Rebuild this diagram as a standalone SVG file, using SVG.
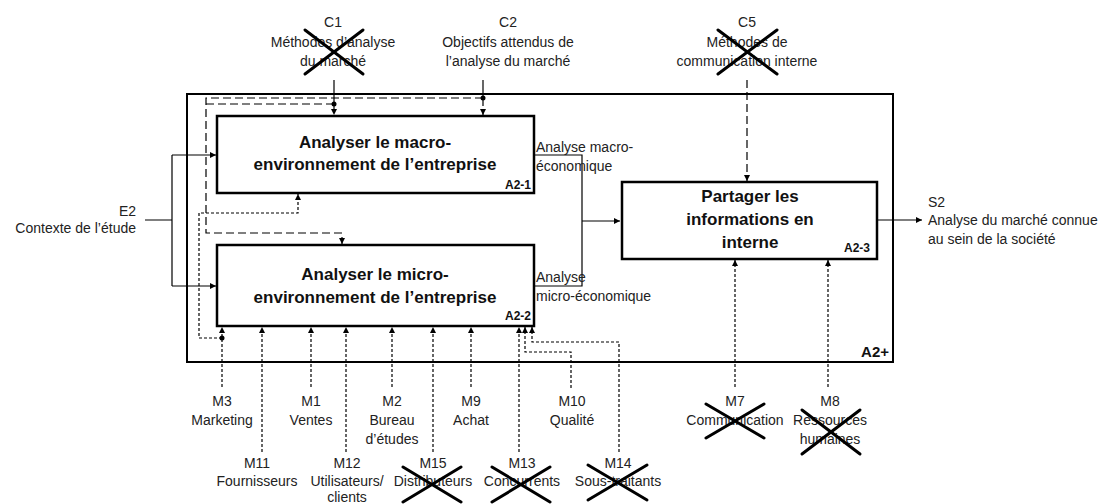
<svg xmlns="http://www.w3.org/2000/svg" width="1105" height="504" viewBox="0 0 1105 504">
<defs>
<marker id="ah" markerUnits="userSpaceOnUse" markerWidth="7" markerHeight="6" refX="6" refY="3" orient="auto">
<path d="M0,0 L6,3 L0,6 z" fill="#000"/>
</marker>
<style>
.lbl{font-family:"Liberation Sans",Arial,sans-serif;font-size:14px;fill:#222;text-anchor:middle}
.st{text-anchor:start}
.en{text-anchor:end}
.ttl{font-family:"Liberation Sans",Arial,sans-serif;font-size:17px;font-weight:bold;fill:#111;text-anchor:middle}
.id{font-family:"Liberation Sans",Arial,sans-serif;font-size:12px;font-weight:bold;fill:#111;text-anchor:end}
.box{fill:#fff;stroke:#000;stroke-width:2.5}
.frame{fill:none;stroke:#000;stroke-width:2}
.c{fill:none;stroke:#000;stroke-width:1.2}
.ca{fill:none;stroke:#000;stroke-width:1.2;marker-end:url(#ah)}
.ld{stroke-dasharray:8,4}
.sd{stroke-dasharray:3,2}
.x{stroke:#000;stroke-width:3;stroke-linecap:round}
</style>
</defs>
<rect width="1105" height="504" fill="#fff"/>

<g id="A2plus">
<rect class="frame" x="187" y="94" width="706" height="268"/>
<text class="id" x="889" y="357" style="font-size:15px">A2+</text>
</g>

<g id="connectors">
<path class="c" d="M145,220 H172 M172,155 V286"/>
<path class="ca" d="M172,155 H216"/>
<path class="ca" d="M172,286 H216"/>
<path class="c" d="M534,155 H582 V286 H534"/>
<path class="ca" d="M582,221 H620"/>
<path class="ca" d="M876,220 H922"/>
<path class="c" d="M334,80 V104"/>
<circle cx="334" cy="104" r="2.5" fill="#000"/>
<path class="ca ld" d="M334,104 V115"/>
<path class="c" d="M483,80 V98"/>
<circle cx="483" cy="98" r="2.5" fill="#000"/>
<path class="ca ld" d="M483,98 V115"/>
<path class="ca ld" d="M483,98 H206 V233 H342 V244"/>
<path class="c ld" d="M334,104 H206"/>
<path class="ca ld" d="M747,80 V181"/>
<path class="ca sd" d="M222,387 V327"/>
<circle cx="222" cy="338" r="2.5" fill="#000"/>
<path class="ca sd" d="M222,338 H199 V213 H298 V194"/>
<path class="ca sd" d="M262,452 V327"/>
<path class="ca sd" d="M311,387 V327"/>
<path class="ca sd" d="M346,452 V327"/>
<path class="ca sd" d="M392,387 V327"/>
<path class="ca sd" d="M433,452 V327"/>
<path class="ca sd" d="M471,387 V327"/>
<path class="ca sd" d="M519,452 V327"/>
<path class="ca sd" d="M571,388 V352 H525 V327"/>
<path class="ca sd" d="M619,452 V342 H532 V327"/>
<path class="ca sd" d="M735,387 V260"/>
<path class="ca sd" d="M828,387 V260"/>
</g>

<g id="A2-1">
<rect class="box" x="217" y="116" width="317" height="77"/>
<text class="ttl" x="375" y="148">Analyser le macro-</text>
<text class="ttl" x="375" y="170">environnement de l’entreprise</text>
<text class="id" x="531" y="189">A2-1</text>
</g>

<g id="A2-2">
<rect class="box" x="217" y="245" width="317" height="81"/>
<text class="ttl" x="375" y="280">Analyser le micro-</text>
<text class="ttl" x="375" y="303">environnement de l’entreprise</text>
<text class="id" x="531" y="320">A2-2</text>
</g>

<g id="A2-3">
<rect class="box" x="622" y="182" width="255" height="77"/>
<text class="ttl" x="750" y="202">Partager les</text>
<text class="ttl" x="750" y="225">informations en</text>
<text class="ttl" x="750" y="248">interne</text>
<text class="id" x="870" y="252">A2-3</text>
</g>

<g id="flow-labels">
<text class="lbl st" x="536" y="152">Analyse macro-</text>
<text class="lbl st" x="536" y="171">économique</text>
<text class="lbl st" x="536" y="282">Analyse</text>
<text class="lbl st" x="536" y="301">micro-économique</text>
</g>

<g id="C1">
<text class="lbl" x="333" y="27">C1</text>
<text class="lbl" x="333" y="47">Méthodes d’analyse</text>
<text class="lbl" x="333" y="66">du marché</text>
<line class="x" x1="305" y1="30" x2="363" y2="74"/>
<line class="x" x1="363" y1="30" x2="305" y2="74"/>
</g>
<g id="C2">
<text class="lbl" x="508" y="27">C2</text>
<text class="lbl" x="508" y="47">Objectifs attendus de</text>
<text class="lbl" x="508" y="66">l’analyse du marché</text>
</g>
<g id="C5">
<text class="lbl" x="747" y="27">C5</text>
<text class="lbl" x="747" y="47">Méthodes de</text>
<text class="lbl" x="747" y="66">communication interne</text>
<line class="x" x1="718" y1="30" x2="777" y2="74"/>
<line class="x" x1="777" y1="30" x2="718" y2="74"/>
</g>
<g id="E2">
<text class="lbl en" x="136" y="216">E2</text>
<text class="lbl en" x="136" y="233">Contexte de l’étude</text>
</g>
<g id="S2">
<text class="lbl st" x="928" y="207">S2</text>
<text class="lbl st" x="928" y="225">Analyse du marché connue</text>
<text class="lbl st" x="928" y="244">au sein de la société</text>
</g>

<g id="M3"><text class="lbl" x="222" y="406">M3</text><text class="lbl" x="222" y="425">Marketing</text></g>
<g id="M1"><text class="lbl" x="311" y="406">M1</text><text class="lbl" x="311" y="425">Ventes</text></g>
<g id="M2"><text class="lbl" x="392" y="406">M2</text><text class="lbl" x="392" y="425">Bureau</text><text class="lbl" x="392" y="444">d’études</text></g>
<g id="M9"><text class="lbl" x="471" y="406">M9</text><text class="lbl" x="471" y="425">Achat</text></g>
<g id="M10"><text class="lbl" x="572" y="406">M10</text><text class="lbl" x="572" y="425">Qualité</text></g>
<g id="M7"><text class="lbl" x="735" y="406">M7</text><text class="lbl" x="735" y="425">Communication</text>
<line class="x" x1="706" y1="404" x2="764" y2="438"/><line class="x" x1="764" y1="404" x2="706" y2="438"/></g>
<g id="M8"><text class="lbl" x="830" y="406">M8</text><text class="lbl" x="830" y="425">Ressources</text><text class="lbl" x="830" y="444">humaines</text>
<line class="x" x1="802" y1="410" x2="860" y2="454"/><line class="x" x1="860" y1="410" x2="802" y2="454"/></g>
<g id="M11"><text class="lbl" x="257" y="468">M11</text><text class="lbl" x="257" y="486">Fournisseurs</text></g>
<g id="M12"><text class="lbl" x="347" y="468">M12</text><text class="lbl" x="347" y="486">Utilisateurs/</text><text class="lbl" x="347" y="502">clients</text></g>
<g id="M15"><text class="lbl" x="433" y="468">M15</text><text class="lbl" x="433" y="486">Distributeurs</text>
<line class="x" x1="403" y1="467" x2="461" y2="502"/><line class="x" x1="461" y1="467" x2="403" y2="502"/></g>
<g id="M13"><text class="lbl" x="522" y="468">M13</text><text class="lbl" x="522" y="486">Concurrents</text>
<line class="x" x1="492" y1="467" x2="550" y2="502"/><line class="x" x1="550" y1="467" x2="492" y2="502"/></g>
<g id="M14"><text class="lbl" x="618" y="468">M14</text><text class="lbl" x="618" y="486">Sous-traitants</text>
<line class="x" x1="588" y1="465" x2="647" y2="500"/><line class="x" x1="647" y1="465" x2="588" y2="500"/></g>
</svg>
